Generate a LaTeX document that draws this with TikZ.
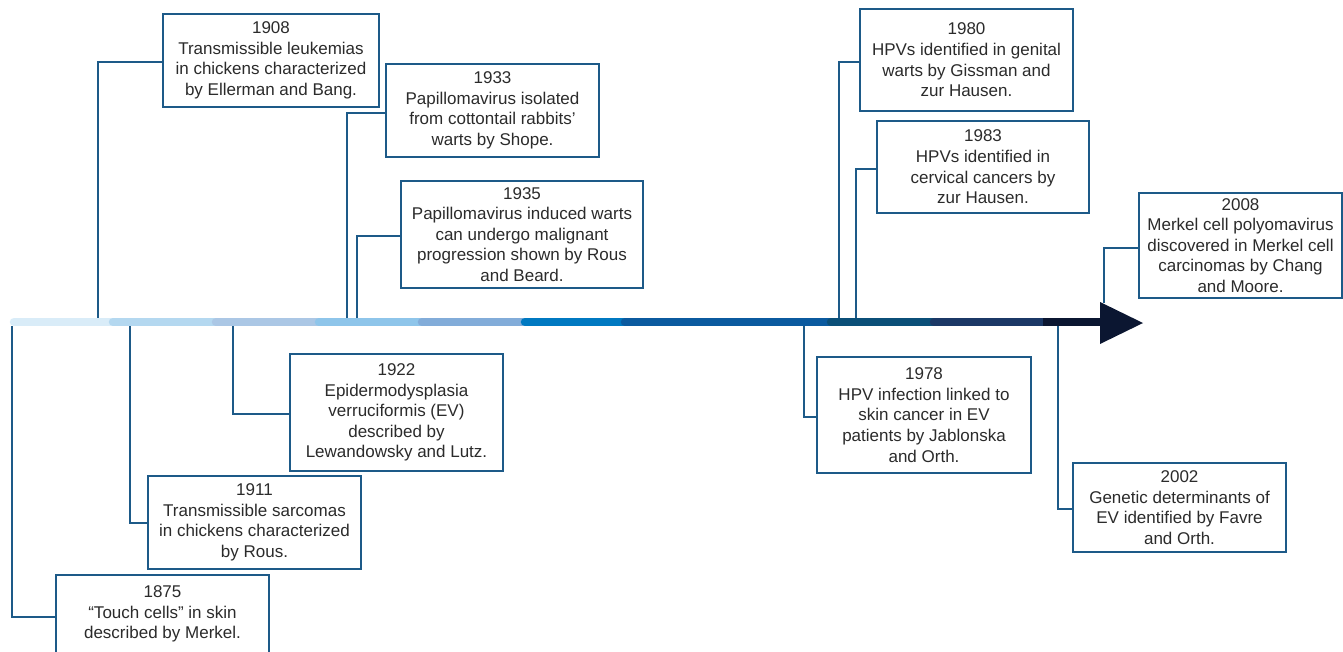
\documentclass[tikz,border=0pt]{standalone}
\usepackage{fontspec}
\setmainfont{Liberation Sans}
\begin{document}
\begin{tikzpicture}[x=1pt,y=-1pt,
  box/.style={draw=boxblue, line width=2pt, fill=white, inner sep=0pt, align=center,
    text=txtgray, font=\fontsize{17pt}{20.6pt}\selectfont},
  conn/.style={draw=boxblue, line width=2pt},
  seg/.style={line width=8.5pt, line cap=round}]
\definecolor{boxblue}{HTML}{1D5A88}
\definecolor{txtgray}{HTML}{2B2B2B}
\definecolor{s1}{HTML}{D9ECF8}
\definecolor{s2}{HTML}{B4D8F0}
\definecolor{s3}{HTML}{ABC7E5}
\definecolor{s4}{HTML}{8EC5EA}
\definecolor{s5}{HTML}{82ACD9}
\definecolor{s6}{HTML}{0079C1}
\definecolor{s7}{HTML}{0B5A9F}
\definecolor{s8}{HTML}{0B4F78}
\definecolor{s9}{HTML}{1B3866}
\definecolor{s10}{HTML}{0B1631}
\useasboundingbox (0,0) rectangle (1343,651);

% timeline bar
\draw[seg, s1] (14,322) -- (113,322);
\draw[seg, s2] (113,322) -- (216,322);
\draw[seg, s3] (216,322) -- (319,322);
\draw[seg, s4] (319,322) -- (422,322);
\draw[seg, s5] (422,322) -- (525,322);
\draw[seg, s6] (525,322) -- (625,322);
\draw[seg, s7] (625,322) -- (831,322);
\draw[seg, s8] (831,322) -- (934,322);
\draw[seg, s9] (934,322) -- (1043,322);
\draw[line width=8.5pt, s10] (1043,322) -- (1101,322);
\fill[s10] (1100,302) -- (1143,323) -- (1100,344) -- cycle;

% anchor points on bar
\coordinate (p1908) at (98,318);
\coordinate (p1933) at (347,318);
\coordinate (p1935) at (357,318);
\coordinate (p1980) at (839,318);
\coordinate (p1983) at (856,318);
\coordinate (p2008) at (1104,303);
\coordinate (p1875) at (12,326);
\coordinate (p1911) at (130,326);
\coordinate (p1922) at (233,326);
\coordinate (p1978) at (804,326);
\coordinate (p2002) at (1058,326);

% boxes
\node[box, minimum width=216pt, minimum height=93pt] (b1908) at (271,60.5)
  {1908\\Transmissible leukemias\\in chickens characterized\\by Ellerman and Bang.};
\node[box, minimum width=213pt, minimum height=93pt] (b1933) at (492.5,110.5)
  {1933\\Papillomavirus isolated\\from cottontail rabbits’\\warts by Shope.};
\node[box, minimum width=242pt, minimum height=107pt] (b1935) at (522,234.5)
  {1935\\Papillomavirus induced warts\\can undergo malignant\\progression shown by Rous\\and Beard.};
\node[box, minimum width=213pt, minimum height=117pt] (b1922) at (396.5,412.5)
  {1922\\Epidermodysplasia\\verruciformis (EV)\\described by\\Lewandowsky and Lutz.};
\node[box, minimum width=213pt, minimum height=93pt] (b1911) at (254.5,522.5)
  {1911\\Transmissible sarcomas\\in chickens characterized\\by Rous.};
\node[box, minimum width=213pt, minimum height=78pt] (b1875) at (162.5,614)
  {1875\\“Touch cells” in skin\\described by Merkel.};
\node[box, minimum width=213pt, minimum height=102pt] (b1980) at (966.5,60)
  {1980\\HPVs identified in genital\\warts by Gissman and\\zur Hausen.};
\node[box, minimum width=212pt, minimum height=92pt] (b1983) at (983,167)
  {1983\\HPVs identified in\\cervical cancers by\\zur Hausen.};
\node[box, minimum width=203pt, minimum height=105pt] (b2008) at (1240.5,245.5)
  {2008\\Merkel cell polyomavirus\\discovered in Merkel cell\\carcinomas by Chang\\and Moore.};
\node[box, minimum width=214pt, minimum height=116pt] (b1978) at (924,415)
  {1978\\HPV infection linked to\\skin cancer in EV\\patients by Jablonska\\and Orth.};
\node[box, minimum width=213pt, minimum height=89pt] (b2002) at (1179.5,507.5)
  {2002\\Genetic determinants of\\EV identified by Favre\\and Orth.};

% connectors
\draw[conn] ([yshift=-1.5pt]b1908.west) -| (p1908);
\draw[conn] ([yshift=-2pt]b1933.west) -| (p1933);
\draw[conn] ([yshift=-1.5pt]b1935.west) -| (p1935);
\draw[conn] ([yshift=-2pt]b1980.west) -| (p1980);
\draw[conn] ([yshift=-2pt]b1983.west) -| (p1983);
\draw[conn] ([yshift=-2.5pt]b2008.west) -| (p2008);
\draw[conn] ([yshift=-3pt]b1875.west) -| (p1875);
\draw[conn] ([yshift=0pt]b1911.west) -| (p1911);
\draw[conn] ([yshift=-1.5pt]b1922.west) -| (p1922);
\draw[conn] ([yshift=-2pt]b1978.west) -| (p1978);
\draw[conn] ([yshift=-1.5pt]b2002.west) -| (p2002);
\end{tikzpicture}
\end{document}
